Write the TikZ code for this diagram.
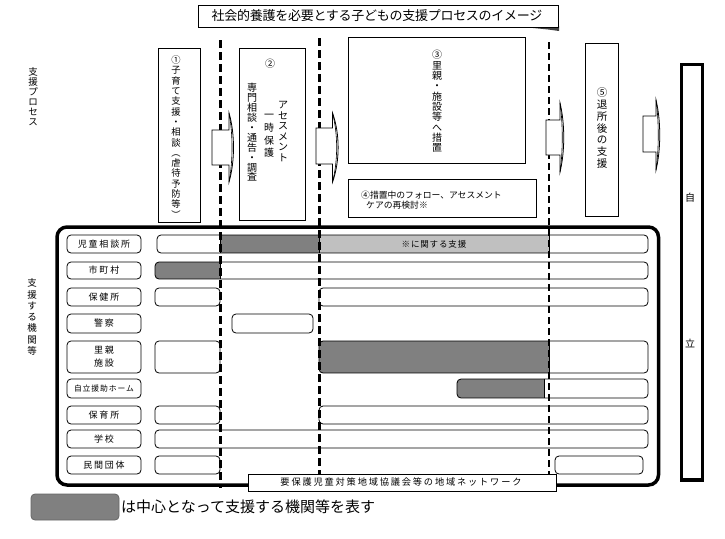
\documentclass[tikz,border=0pt]{standalone}
\usepackage{fontspec}
\setmainfont{Noto Sans CJK JP}
\definecolor{dgray}{HTML}{808080}
\definecolor{lgray}{HTML}{C0C0C0}
\tikzset{
  bx/.style={draw, line width=0.8pt, fill=white},
  lbl/.style={draw, line width=0.8pt, rounded corners=4pt, fill=white},
  barl/.style={draw, line width=0.8pt, rounded corners=4pt},
  dline/.style={line width=3pt, dash pattern=on 8pt off 4pt},
  dlinethin/.style={line width=2pt, dash pattern=on 7pt off 4pt},
  vt/.style={align=center, inner sep=0pt},
  txt/.style={inner sep=0pt},
  barrow/.style={draw, line width=0.8pt, fill=white},
}
\newcommand\fs[2]{\fontsize{#1}{#2}\selectfont}
\newcommand\LS[1]{\addfontfeature{LetterSpace=#1}}
% block arrow: x0, xs, xc, y1, y2, yt, yb
\newcommand\blockarrow[7]{%
  \draw[barrow] (#1,#4) -- (#2,#4) -- (#2,#6) .. controls (#3,{#6+0.3*(#7-#6)}) and (#3,{#6+0.7*(#7-#6)}) .. (#2,#7) -- (#2,#5) -- (#1,#5) -- cycle;
  \draw[line width=0.6pt] (#2,#6) .. controls ({#3-2},{#6+0.3*(#7-#6)}) and ({#3-2},{#6+0.7*(#7-#6)}) .. (#2,#7);}
% rounded bar outline
\newcommand\rbar[4]{\draw[barl, fill=white] (#1,#3) rectangle (#2,#4);}
% filled segment clipped to a rounded bar: x1 x2 y1 y2 a b colour
\newcommand\gseg[7]{\begin{scope}\clip[rounded corners=4pt] (#1,#3) rectangle (#2,#4);
  \fill[#7] (#5,#3) rectangle (#6,#4);\end{scope}}
\begin{document}
\begin{tikzpicture}[x=1pt,y=-1pt]
\useasboundingbox (0,0) rectangle (725,538);

% ---------- title ----------
\fill[black!75] (528,27.5) -- (559,26) -- (559,31) -- (548,29.5) -- cycle;
\draw[bx] (198,5) rectangle (558,27);
\node[txt, font=\fs{13}{14}\LS{-2}] (title) at (377,16) {社会的養護を必要とする子どもの支援プロセスのイメージ};

% ---------- left labels ----------
\node[vt, font=\fs{9.5}{10}] (lp) at (33,97) {支\\援\\プ\\ロ\\セ\\ス};
\node[vt, font=\fs{9.5}{11.3}] (la) at (32,317) {支\\援\\す\\る\\機\\関\\等};

% ---------- main frame ----------
\draw[line width=3.5pt, rounded corners=10pt] (57,227) rectangle (658.5,485);

% ---------- stage boxes ----------
\draw[bx] (158,48) rectangle (200,222);
\node[vt, font=\fs{9.3}{10.3}] (s1) at (176,137) {①\\子\\育\\て\\支\\援\\・\\相\\談\\︵\\虐\\待\\予\\防\\等\\︶};

\draw[bx] (239,48) rectangle (305,220);
\node[txt, font=\fs{10}{10}] (s2n) at (270,64) {②};
\node[vt, font=\fs{10}{9.9}] (s2a) at (252,132.5) {専\\門\\相\\談\\・\\通\\告\\・\\調\\査};
\node[vt, font=\fs{10}{12.7}] (s2b) at (269,136) {一\\時\\保\\護};
\node[vt, font=\fs{10}{10.6}] (s2c) at (283,131.5) {ア\\セ\\ス\\メ\\ン\\ト};

\draw[bx] (348,37) rectangle (525,163);
\node[vt, font=\fs{10}{10.3}] (s3) at (437,101.5) {③\\里\\親\\・\\施\\設\\等\\へ\\措\\置};

\draw[bx] (348,179) rectangle (536,217);
\node[txt, anchor=west, font=\fs{8.8}{10}] (s4a) at (361,195) {④措置中のフォロー、アセスメント};
\node[txt, anchor=west, font=\fs{8.8}{10}] (s4b) at (366,205) {ケアの再検討※};

\draw[bx] (585,43) rectangle (618,216);
\node[vt, font=\fs{10.5}{11.7}] (s5) at (602,128) {⑤\\退\\所\\後\\の\\支\\援};

\draw[line width=3.5pt, fill=white] (681.5,64.5) rectangle (702.5,480);
\node[txt, font=\fs{10}{10}] (ji) at (690,198) {自};
\node[txt, font=\fs{10}{10}] (ri) at (690,343) {立};

% ---------- row labels ----------
\draw[lbl] (67,235) rectangle (141,253);
\node[txt, font=\fs{9}{10}\LS{20}] (l1) at (104,244) {児童相談所};
\draw[lbl] (67,262) rectangle (141,279);
\node[txt, font=\fs{9}{10}\LS{20}] (l2) at (104,270.5) {市町村};
\draw[lbl] (67,288) rectangle (141,306);
\node[txt, font=\fs{9}{10}\LS{20}] (l3) at (104,297) {保健所};
\draw[lbl] (67,314) rectangle (141,333);
\node[txt, font=\fs{9}{10}\LS{20}] (l4) at (104,323.5) {警察};
\draw[lbl] (67,341) rectangle (141,373);
\node[vt, font=\fs{9}{13}\LS{20}] (l5) at (104,357) {里親\\施設};
\draw[lbl] (67,379) rectangle (141,398);
\node[txt, font=\fs{7.8}{10}\LS{12}] (l6) at (104,388.5) {自立援助ホーム};
\draw[lbl] (67,406) rectangle (141,424);
\node[txt, font=\fs{9}{10}\LS{20}] (l7) at (104,415) {保育所};
\draw[lbl] (67,430) rectangle (141,448);
\node[txt, font=\fs{9}{10}\LS{20}] (l8) at (104,439) {学校};
\draw[lbl] (67,456) rectangle (141,474);
\node[txt, font=\fs{9}{10}\LS{20}] (l9) at (104,465) {民間団体};

% ---------- bars ----------
% row 1
\gseg{157}{648}{235}{253}{157}{648}{white}
\gseg{157}{648}{235}{253}{220}{319}{dgray}
\gseg{157}{648}{235}{253}{319}{549}{lgray}
\draw[line width=0.8pt] (220,235) -- (220,253) (319,235) -- (319,253) (549,235) -- (549,253);
\draw[barl] (157,235) rectangle (648,253);
\node[txt, font=\fs{8.5}{10}\LS{10}] (n1) at (434,244) {※に関する支援};
% row 2
\gseg{155}{648}{262}{279}{155}{648}{white}
\gseg{155}{648}{262}{279}{155}{220}{dgray}
\draw[line width=0.8pt] (220,262) -- (220,279);
\draw[barl] (155,262) rectangle (648,279);
% row 3
\rbar{155}{220}{288}{306}
\rbar{319}{648}{288}{306}
% row 4
\rbar{232}{313}{314}{333}
% row 5
\rbar{155}{220}{341}{373}
\gseg{319}{648}{341}{373}{319}{648}{white}
\gseg{319}{648}{341}{373}{319}{549}{dgray}
\draw[line width=0.8pt] (549,341) -- (549,373);
\draw[barl] (319,341) rectangle (648,373);
% row 6
\gseg{457}{648}{379}{398}{457}{648}{white}
\gseg{457}{648}{379}{398}{457}{544}{dgray}
\draw[line width=0.8pt] (544,379) -- (544,398);
\draw[barl] (457,379) rectangle (648,398);
% row 7
\rbar{155}{220}{406}{424}
\rbar{319}{648}{406}{424}
% row 8
\rbar{155}{648}{430}{448}
% row 9
\rbar{155}{220}{456}{474}
\rbar{555}{643}{456}{474}

% ---------- dashed phase lines ----------
\draw[dline] (220,40) -- (220,488);
\draw[dline] (319,38) -- (319,476);
\draw[dlinethin] (549,42) -- (549,476);

% ---------- block arrows ----------
\blockarrow{212}{229}{235}{130}{165}{113}{182}
\blockarrow{316}{332.5}{340}{128}{164}{113}{182}
\blockarrow{546}{560}{565}{120}{155}{103}{172}
\blockarrow{643}{656}{661}{116}{152}{100}{170}

% ---------- network box ----------
\draw[bx] (248,474) rectangle (556,491);
\node[txt, font=\fs{9.2}{10}\LS{20}] (net) at (401,482.5) {要保護児童対策地域協議会等の地域ネットワーク};

% ---------- legend ----------
\draw[line width=0.8pt, draw=black!60, fill=dgray, rounded corners=4pt] (31,494) rectangle (119,520);
\node[txt, anchor=west, font=\fs{15}{16}] (leg) at (121,507) {は中心となって支援する機関等を表す};
\end{tikzpicture}
\end{document}
